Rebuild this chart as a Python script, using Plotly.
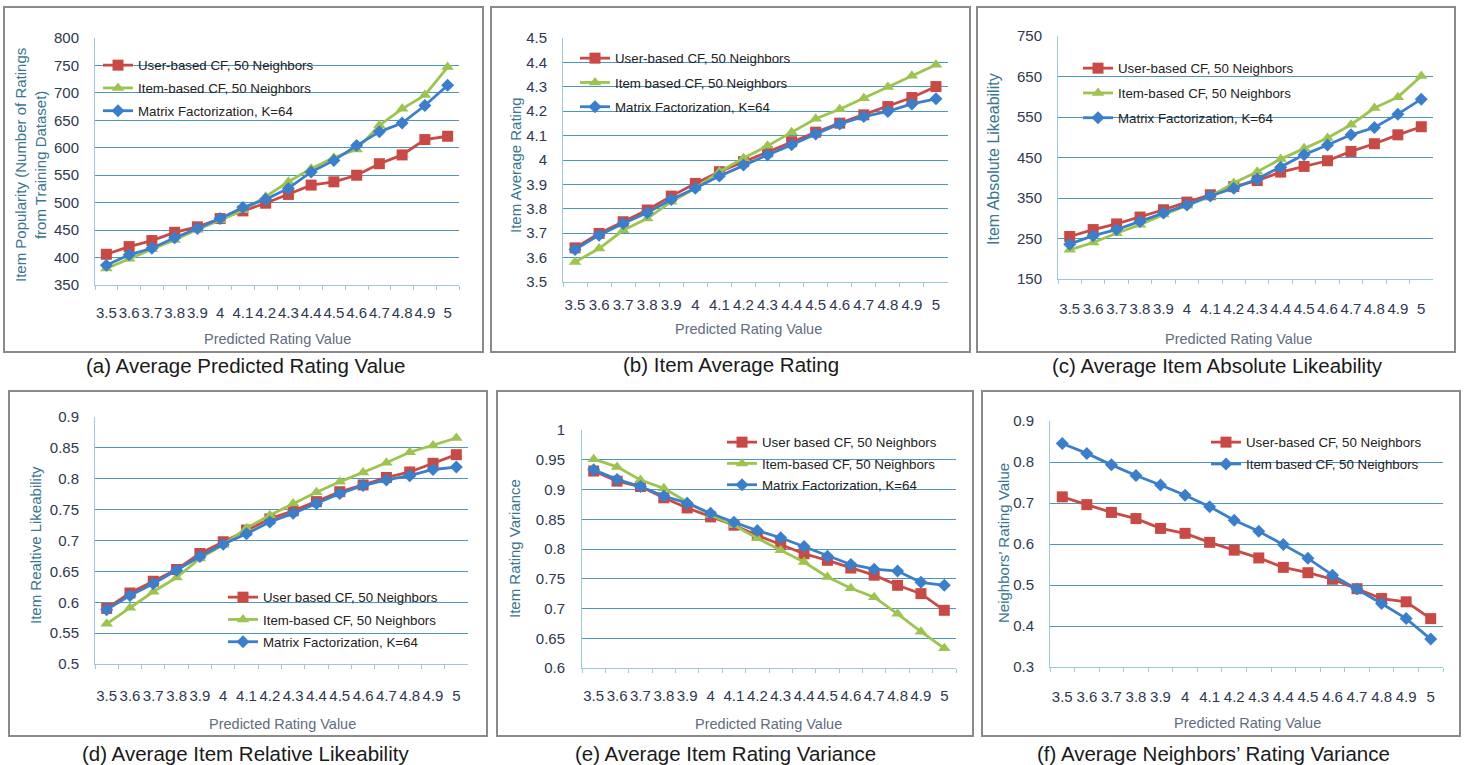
import plotly.graph_objects as go

W, H = 1470, 765

categories = ["3.5", "3.6", "3.7", "3.8", "3.9", "4", "4.1", "4.2", "4.3", "4.4",
              "4.5", "4.6", "4.7", "4.8", "4.9", "5"]

# (a) Average Predicted Rating Value -> Item popularity
a_user = [406, 420, 431, 446, 456, 471, 485, 499, 515, 532, 538, 550, 571, 587, 615, 621]
a_item = [380, 398, 415, 432, 451, 468, 486, 511, 538, 562, 582, 597, 641, 671, 696, 747]
a_mf = [386, 405, 417, 436, 453, 471, 491, 506, 526, 556, 577, 604, 629, 645, 677, 714]

# (b) Item Average Rating
b_user = [3.640, 3.699, 3.747, 3.795, 3.852, 3.904, 3.952, 3.993, 4.034, 4.075, 4.114, 4.151, 4.185, 4.219, 4.256, 4.301]
b_item = [3.582, 3.637, 3.712, 3.760, 3.829, 3.884, 3.952, 4.007, 4.058, 4.114, 4.169, 4.208, 4.253, 4.299, 4.345, 4.390]
b_mf = [3.633, 3.692, 3.740, 3.784, 3.838, 3.884, 3.934, 3.979, 4.021, 4.062, 4.107, 4.148, 4.178, 4.199, 4.230, 4.251]

# (c) Average Item Absolute Likeability
c_user = [255, 272, 286, 303, 321, 340, 358, 378, 393, 414, 428, 442, 465, 484, 506, 526]
c_item = [222, 240, 263, 284, 309, 331, 354, 387, 415, 446, 473, 498, 531, 572, 599, 651]
c_mf = [236, 257, 272, 292, 313, 333, 355, 374, 397, 426, 457, 481, 506, 524, 557, 594]

# (d) Average Item Relative Likeability
d_user = [0.590, 0.615, 0.634, 0.653, 0.679, 0.698, 0.717, 0.735, 0.748, 0.763, 0.779, 0.790, 0.802, 0.811, 0.825, 0.839]
d_item = [0.565, 0.591, 0.617, 0.640, 0.671, 0.693, 0.720, 0.741, 0.760, 0.778, 0.795, 0.810, 0.826, 0.843, 0.854, 0.866]
d_mf = [0.588, 0.611, 0.630, 0.652, 0.674, 0.694, 0.711, 0.730, 0.744, 0.760, 0.776, 0.789, 0.798, 0.805, 0.815, 0.819]

# (e) Average Item Rating Variance
e_user = [0.931, 0.914, 0.905, 0.886, 0.869, 0.854, 0.840, 0.823, 0.808, 0.792, 0.781, 0.768, 0.756, 0.739, 0.725, 0.697]
e_item = [0.951, 0.938, 0.916, 0.902, 0.879, 0.857, 0.840, 0.818, 0.798, 0.778, 0.753, 0.734, 0.719, 0.691, 0.661, 0.633]
e_mf = [0.933, 0.917, 0.905, 0.889, 0.877, 0.860, 0.845, 0.831, 0.819, 0.804, 0.788, 0.774, 0.766, 0.763, 0.744, 0.739]

# (f) Average Neighbors' Rating Variance
f_user = [0.715, 0.696, 0.677, 0.662, 0.638, 0.626, 0.604, 0.585, 0.566, 0.543, 0.530, 0.514, 0.491, 0.467, 0.459, 0.418]
f_item = [0.845, 0.821, 0.793, 0.767, 0.744, 0.719, 0.691, 0.658, 0.631, 0.599, 0.565, 0.524, 0.490, 0.455, 0.418, 0.368]

# Tick labels
a_ticks = [350, 400, 450, 500, 550, 600, 650, 700, 750, 800]
a_ticktext = ["350", "400", "450", "500", "550", "600", "650", "700", "750", "800"]
b_ticks = [3.5, 3.6, 3.7, 3.8, 3.9, 4.0, 4.1, 4.2, 4.3, 4.4, 4.5]
b_ticktext = ["3.5", "3.6", "3.7", "3.8", "3.9", "4", "4.1", "4.2", "4.3", "4.4", "4.5"]
c_ticks = [150, 250, 350, 450, 550, 650, 750]
c_ticktext = ["150", "250", "350", "450", "550", "650", "750"]
d_ticks = [0.5, 0.55, 0.6, 0.65, 0.7, 0.75, 0.8, 0.85, 0.9]
d_ticktext = ["0.5", "0.55", "0.6", "0.65", "0.7", "0.75", "0.8", "0.85", "0.9"]
e_ticks = [0.6, 0.65, 0.7, 0.75, 0.8, 0.85, 0.9, 0.95, 1.0]
e_ticktext = ["0.6", "0.65", "0.7", "0.75", "0.8", "0.85", "0.9", "0.95", "1"]
f_ticks = [0.3, 0.4, 0.5, 0.6, 0.7, 0.8, 0.9]
f_ticktext = ["0.3", "0.4", "0.5", "0.6", "0.7", "0.8", "0.9"]

names_a = ["User-based CF, 50 Neighbors", "Item-based CF, 50 Neighbors", "Matrix Factorization, K=64"]
names_b = ["User-based CF, 50 Neighbors", "Item based CF, 50 Neighbors", "Matrix Factorization, K=64"]
names_c = ["User-based CF, 50 Neighbors", "Item-based CF, 50 Neighbors", "Matrix Factorization, K=64"]
names_d = ["User based CF, 50 Neighbors", "Item-based CF, 50 Neighbors", "Matrix Factorization, K=64"]
names_e = ["User based CF, 50 Neighbors", "Item-based CF, 50 Neighbors", "Matrix Factorization, K=64"]
names_f = ["User-based CF, 50 Neighbors", "Item based CF, 50 Neighbors"]

captions = ["(a) Average Predicted Rating Value", "(b) Item Average Rating",
            "(c) Average Item Absolute Likeability", "(d) Average Item Relative Likeability",
            "(e) Average Item Rating Variance", "(f) Average Neighbors\u2019 Rating Variance"]
ytitles = ["Item Popularity (Number of Ratings<br>from Training Dataset)", "Item Average Rating",
           "Item Absolute Likeability", "Item Realtive Likeability", "Item Rating Variance",
           "Neighbors\u2019 Rating Value"]
xtitle = "Predicted Rating Value"

RED, GREEN, BLUE = "#c94a44", "#9cc44e", "#3a7fcc"
styles = {
    "red": dict(color=RED, symbol="square", size=11),
    "green": dict(color=GREEN, symbol="triangle-up", size=11),
    "blue": dict(color=BLUE, symbol="diamond", size=10),
}

# layout geometry (pixels): plot area left,right,top,bottom ; frame ; legend ; title positions
panels = [
    dict(series=[(a_user, "red"), (a_item, "green"), (a_mf, "blue")], names=names_a,
         rng=[350, 800], tv=a_ticks, tt=a_ticktext,
         area=(95, 459, 38, 285), frame=(4, 483, 7, 352), leg=(98, 50, 2.5),
         ytx=30, yty=165, yts=15, xtx=277, xty=339, cx=245, cy=365, xstand=14, ystand=12),
    dict(series=[(b_user, "red"), (b_item, "green"), (b_mf, "blue")], names=names_b,
         rng=[3.5, 4.5], tv=b_ticks, tt=b_ticktext,
         area=(563, 948, 38, 282), frame=(491, 970, 7, 352), leg=(575, 43, 4),
         ytx=515, yty=165, yts=15, xtx=748, xty=329, cx=731, cy=364, xstand=9, ystand=12),
    dict(series=[(c_user, "red"), (c_item, "green"), (c_mf, "blue")], names=names_c,
         rng=[150, 750], tv=c_ticks, tt=c_ticktext,
         area=(1058, 1433, 36, 279), frame=(977, 1455, 7, 352), leg=(1078, 53, 4.5),
         ytx=993, yty=159, yts=16, xtx=1238, xty=339, cx=1217, cy=365, xstand=16, ystand=12),
    dict(series=[(d_user, "red"), (d_item, "green"), (d_mf, "blue")], names=names_d,
         rng=[0.5, 0.9], tv=d_ticks, tt=d_ticktext,
         area=(95, 468, 417, 664), frame=(9, 487, 391, 736), leg=(223, 582, 2),
         ytx=35, yty=545, yts=15, xtx=282, xty=724, cx=245, cy=753, xstand=18, ystand=12),
    dict(series=[(e_user, "red"), (e_item, "green"), (e_mf, "blue")], names=names_e,
         rng=[0.6, 1.0], tv=e_ticks, tt=e_ticktext,
         area=(582, 956, 430, 668), frame=(497, 973, 391, 736), leg=(722, 427, 1),
         ytx=514, yty=549, yts=15, xtx=768, xty=724, cx=725, cy=753, xstand=14, ystand=13),
    dict(series=[(f_user, "red"), (f_item, "blue")], names=names_f,
         rng=[0.3, 0.9], tv=f_ticks, tt=f_ticktext,
         area=(1050, 1443, 421, 667), frame=(982, 1460, 391, 736), leg=(1206, 427, 1.5),
         ytx=1003, yty=543, yts=15, xtx=1247, xty=723, cx=1213, cy=753, xstand=16, ystand=12),
]

GRID = "#4c96c0"
AXIS = "#9ec8de"
TICKC = "#2e3850"
FONT = "Liberation Sans, Arial, sans-serif"

fig = go.Figure()
layout = dict(width=W, height=H, margin=dict(l=0, r=0, t=0, b=0, autoexpand=False),
              paper_bgcolor="white", plot_bgcolor="white", showlegend=True,
              shapes=[], annotations=[])

for i, p in enumerate(panels, start=1):
    sfx = "" if i == 1 else str(i)
    legname = "legend" if i == 1 else f"legend{i}"
    for k, ((vals, st), nm) in enumerate(zip(p["series"], p["names"])):
        s = styles[st]
        fig.add_trace(go.Scatter(
            x=categories, y=vals, name=nm, mode="lines+markers",
            line=dict(color=s["color"], width=2.8),
            marker=dict(color=s["color"], symbol=s["symbol"], size=s["size"]),
            xaxis="x" + sfx, yaxis="y" + sfx, legend=legname,
            legendgroup=f"g{i}_{k}", hoverinfo="x+y+name"))
    l, r, t, b = p["area"]
    layout["xaxis" + sfx] = dict(
        domain=[l / W, r / W], anchor="y" + sfx, type="category",
        categoryorder="array", categoryarray=categories,
        range=[-0.5, len(categories) - 0.5],
        tickmode="array", tickvals=categories, ticktext=categories,
        tickangle=0, tickson="boundaries", ticks="outside", ticklen=4,
        tickcolor=AXIS, showline=True, linecolor=AXIS, linewidth=1,
        showgrid=False, zeroline=False, ticklabelstandoff=p["xstand"],
        tickfont=dict(family=FONT, size=15, color=TICKC), fixedrange=True)
    layout["yaxis" + sfx] = dict(
        domain=[1 - b / H, 1 - t / H], anchor="x" + sfx, range=p["rng"],
        tickmode="array", tickvals=p["tv"], ticktext=p["tt"],
        showgrid=True, gridcolor=GRID, gridwidth=1, zeroline=False,
        showline=True, linecolor=AXIS, linewidth=1, ticks="",
        ticklabelstandoff=p["ystand"],
        tickfont=dict(family=FONT, size=15, color=TICKC), fixedrange=True)
    lx, ly, gap = p["leg"]
    layout[legname] = dict(
        x=lx / W, y=1 - ly / H, xanchor="left", yanchor="top",
        xref="paper", yref="paper", bgcolor="rgba(0,0,0,0)", borderwidth=0,
        font=dict(family=FONT, size=13.3, color="#222222"),
        traceorder="grouped", tracegroupgap=gap, itemwidth=30)
    fl, fr, ft, fb = p["frame"]
    layout["shapes"].append(dict(type="rect", xref="paper", yref="paper",
                                 x0=fl / W, x1=fr / W, y0=1 - fb / H, y1=1 - ft / H,
                                 line=dict(color="#8a8a8a", width=2), layer="above"))
    layout["annotations"].append(dict(
        text=ytitles[i - 1], x=p["ytx"] / W, y=1 - p["yty"] / H, xref="paper", yref="paper",
        xanchor="center", yanchor="middle", textangle=-90, showarrow=False,
        font=dict(family=FONT, size=p["yts"], color="#3a7690")))
    layout["annotations"].append(dict(
        text=xtitle, x=p["xtx"] / W, y=1 - p["xty"] / H, xref="paper", yref="paper",
        xanchor="center", yanchor="middle", showarrow=False,
        font=dict(family=FONT, size=14.5, color="#5f6d80")))
    layout["annotations"].append(dict(
        text=captions[i - 1], x=p["cx"] / W, y=1 - p["cy"] / H, xref="paper", yref="paper",
        xanchor="center", yanchor="middle", showarrow=False,
        font=dict(family=FONT, size=20.5, color="#1a1a1a")))

fig.update_layout(**layout)
fig.write_html("out.html", config=dict(displayModeBar=False))
